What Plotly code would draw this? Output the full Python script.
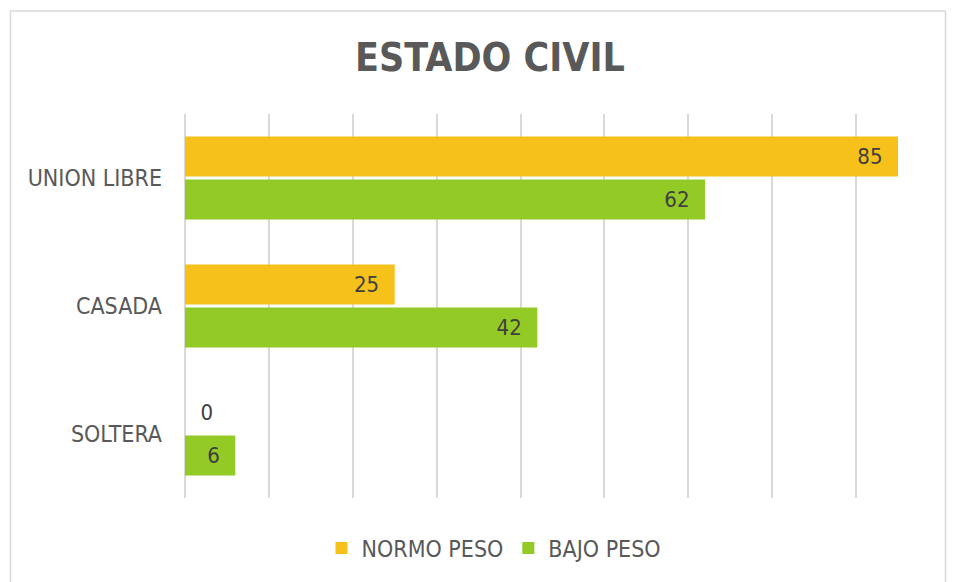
import plotly.graph_objects as go

categories = ["SOLTERA", "CASADA", "UNION LIBRE"]
normo_peso = [0, 25, 85]
bajo_peso = [6, 42, 62]
series_names = ["NORMO PESO", "BAJO PESO"]
title_text = "ESTADO CIVIL"

OFF = 8  # default page margin of the html body
W, H = 956 - OFF, 582 - OFF
# plot area in window pixels: x 185..940, y 114..498
L, R, T, B = 185 - OFF, W - (940 - OFF), 114 - OFF, H - (498 - OFF)
pw, ph = W - L - R, H - T - B

def px_x(p):
    return (p - OFF - L) / pw

def px_y(p):
    return (H - B - (p - OFF)) / ph

FONT = "DejaVu Sans Condensed, Noto Sans, sans-serif"
TXT = "#595959"
LBL = "#404040"
PAD = "\u00a0\u00a0"

def tmpl(vals):
    return [PAD + "%{x}" if v == 0 else "%{x}" + PAD for v in vals]

def tpos(vals):
    return ["outside" if v == 0 else "inside" for v in vals]

fig = go.Figure()
fig.add_trace(go.Bar(
    y=categories, x=bajo_peso, orientation="h", name=series_names[1],
    marker=dict(color="#93CA26", line=dict(width=0)),
    texttemplate=tmpl(bajo_peso), textposition=tpos(bajo_peso),
    insidetextanchor="end", cliponaxis=False,
    textfont=dict(color=LBL, size=22, family=FONT),
    legendrank=2,
))
fig.add_trace(go.Bar(
    y=categories, x=normo_peso, orientation="h", name=series_names[0],
    marker=dict(color="#F6C11A", line=dict(width=0)),
    texttemplate=tmpl(normo_peso), textposition=tpos(normo_peso),
    insidetextanchor="end", cliponaxis=False,
    textfont=dict(color=LBL, size=22, family=FONT),
    legendrank=1,
))

fig.update_layout(
    width=W, height=H,
    margin=dict(l=L, r=R, t=T, b=B, pad=0),
    paper_bgcolor="white", plot_bgcolor="white",
    barmode="group", bargap=0.33, bargroupgap=0.07,
    title=dict(text="<b>" + title_text + "</b>", xref="container",
               x=(490 - OFF) / W, xanchor="center",
               y=1 - (57 - OFF) / H, yanchor="middle",
               font=dict(family=FONT, size=39, color=TXT)),
    font=dict(family=FONT, color=TXT),
    xaxis=dict(range=[0, 90], dtick=10, showticklabels=False,
               showgrid=True, gridcolor="#D9D9D9", gridwidth=1.5,
               zeroline=True, zerolinecolor="#D9D9D9", zerolinewidth=1.5,
               showline=False, fixedrange=True),
    yaxis=dict(categoryorder="array", categoryarray=categories,
               tickfont=dict(size=23, color=TXT, family=FONT),
               ticks="", ticklabelstandoff=22, showgrid=False, showline=False,
               zeroline=False),
    legend=dict(orientation="h", x=px_x(494), xanchor="center",
                y=px_y(548), yanchor="middle",
                font=dict(size=23, color=TXT, family=FONT),
                itemwidth=30, traceorder="normal"),
    shapes=[dict(type="rect", xref="paper", yref="paper",
                 x0=px_x(10.5), x1=px_x(945.5), y0=px_y(600), y1=px_y(11),
                 line=dict(color="#D9D9D9", width=1.5), layer="below")],
)

fig.write_html("out.html")
